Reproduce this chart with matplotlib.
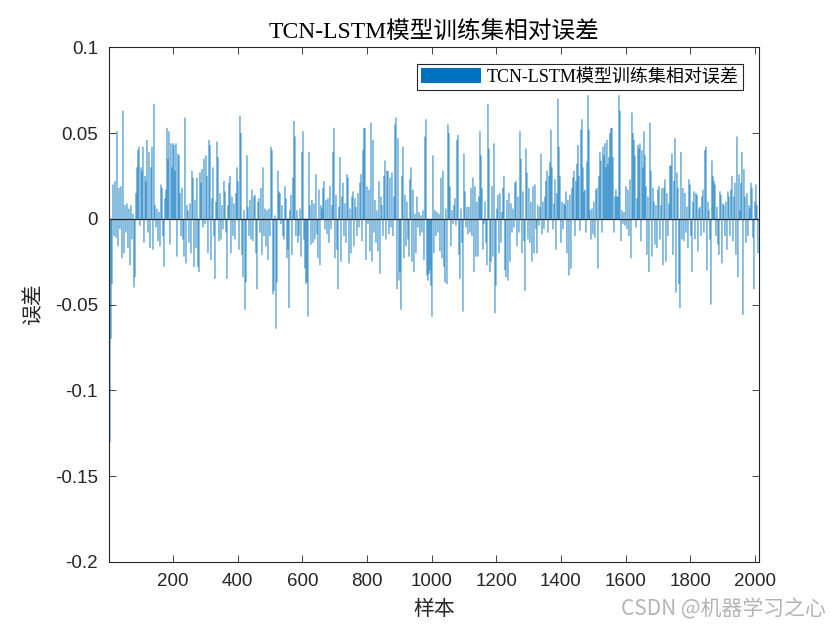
import numpy as np
import matplotlib.pyplot as plt

# Относительная ошибка (в тысячных), каждая ~3-я выборка
err_seg1 = [-130, -70, -38, 20, -10, 22, -11, 51, -16, 18, -6, 19, -23, 63, -20, 8, -8, 9, -17, 6,
            -27, 8, -12, 3, -40, -34, 15, 30, 40, 42, -4, 30, 28, 42, -14, 25, 22, 46, -8, 39,
            -17, 30, 42, -18, 67, 8, -5, 6, -13, 4, -16, 20, 18, -10, -28, 12, 17, 53, 35, 51,
            -15, 44, 30, 44, 43, 28, 44, -22, 38, 37, 15, -10, 18, -12, -22, 59, -26, 8, 5, -14,
            9, -20, 28, 24, -28]
err_seg2 = [11, -17, 24, -28, -31, 27, 21, 29, -5, 35, -3, 37, 25, -20, 46, 43, -24, 12, 30, -10,
            -35, 10, 45, 36, -13, 15, -12, 8, -6, 22, 16, -8, -35, 8, 21, 25, -20, 13, -10, 9,
            -12, 15, 30, 22, -18, 60, 50, -21, -34, 5, -53, -37, 37, 7, -10, 11, -12, 17, -13, 13,
            14, -20, -41, 10, 12, -8, 18, -21, 30, -10, 6, -16, 5, -24, 6, -10, 42, 40, -44, -42,
            2, -64, -37, 28, 16]
err_seg3 = [15, -3, 8, -10, -12, 19, 12, -23, -18, -52, 5, 14, -21, 24, 57, 48, -10, 5, -14, -10,
            6, -22, 39, 51, -12, -29, -38, -37, -57, 39, 8, -15, 11, -14, 9, -12, 26, -9, -23, 17,
            -27, 8, 6, 18, 22, -6, 11, -9, 12, -14, 19, -6, 8, 39, 53, -23, 14, -18, -41, 7,
            36, -25, 13, 21, -10, 9, -14, 26, 24, -26, 6, -20, 13, 16, -16, 12, 7, -10, 15, -5,
            21, 26, -13, 40, 53]
err_seg4 = [53, -24, 19, -3, 17, -19, 56, -25, 46, -8, 11, -14, 5, -19, 22, -32, 13, 8, -10, 25,
            34, -12, 28, 28, -9, 24, -5, 27, -10, 13, 55, 59, -41, 47, -36, -31, -53, 25, 42, -23,
            14, -16, 10, -12, -22, 23, 30, -25, 17, -31, 3, -20, 13, -5, 4, -10, 2, -8, 5, -24,
            48, 58, -33, -36, -32, -30, -39, -57, 37, -20, 5, -10, 4, -8, 3, -19, 24, -23, 28, -28,
            -37, 6, -38, 55, 50]
err_seg5 = [19, -16, 5, -3, 8, 12, -4, 46, 49, -21, -35, 6, -14, -54, 38, 16, -5, 7, -9, 7,
            -8, 18, -10, 24, -31, 19, -22, 10, -22, 13, 51, 37, 18, -18, -3, 10, -14, -27, 67, 41,
            -31, -25, 19, -22, 44, -55, -39, 6, 14, -20, 15, -14, 4, 18, 25, -30, -34, 11, -36, 15,
            -25, 9, -8, 6, -5, 21, 22, -16, 13, -8, 51, 35, -20, 16, -13, -42, 41, 27, -12, 18,
            -14, 10, -25, 19, -20]
err_seg6 = [20, -6, -20, 8, -4, 7, 38, -9, 10, -6, 13, 22, 28, -8, 25, 33, 52, 30, -6, 9,
            23, -18, 15, 70, 42, 25, -14, 10, -6, 9, 8, 16, -20, 11, -33, 14, -29, 18, 24, 28,
            -10, 22, 32, 43, 25, -7, 52, 58, 30, 16, 17, -8, 33, 72, 52, 5, -12, 6, -9, 10,
            -11, 17, 18, -29, 25, 39, 34, -8, 42, 37, 44, 30, 46, 32, 36, 50, 53, 53, 36, -8,
            13, 17, 13, 13, 72]
err_seg7 = [63, -13, 5, -3, 4, -4, 19, -6, 17, -10, 23, -23, 62, 50, 46, 37, -5, 12, 43, 41,
            44, -13, 40, 30, 51, 37, 19, -21, 13, -31, 56, 28, -22, 18, 10, -15, 8, -17, 17, 19,
            -12, 8, 18, -27, 18, 23, -25, 15, -10, 9, 31, 31, 38, -21, 22, 47, -43, 27, 18, -38]
err_seg8 = [-52, 39, -12, 18, -13, 15, -8, 7, -17, 23, 20, -10, -31, 10, 16, -12, 15, 14, -19, 6,
            7, -10, 13, 17, -8, 40, 42, -30, 10, 5, -12, -50, 34, 25, 22, 20, -10, 7, -15, -21,
            16, 14, -26, 9, 8, -10, 10, -18, 16, 13, -10, 17, 25, -13, 13, 21, -21, 48, -34, 26,
            5, 21, 39, -56, 29, 13, -14, 15, -10, 8, 6, 21, 18, -11, -41, 10, 20, 8, -20]

err = np.array(err_seg1 + err_seg2 + err_seg3 + err_seg4 +
               err_seg5 + err_seg6 + err_seg7 + err_seg8) / 1000.0

step = 3.095  # шаг по выборкам
samples = 4.4 + step * np.arange(len(err))

title_txt = 'TCN-LSTM模型训练集相对误差'
xticks = [200, 400, 600, 800, 1000, 1200, 1400, 1600, 1800, 2000]
yticks = [-0.2, -0.15, -0.1, -0.05, 0, 0.05, 0.1]
ytick_labels = ['-0.2', '-0.15', '-0.1', '-0.05', '0', '0.05', '0.1']

serif_cjk = ['Liberation Serif', 'Noto Sans CJK SC']

fig = plt.figure(figsize=(8.4, 6.3), dpi=100)
ax = fig.add_axes([0.130, 0.108, 0.7735, 0.817])

ax.bar(samples, err, width=0.9 * step, color='#0072BD', edgecolor='none',
       linewidth=0, snap=False, label=title_txt)
ax.axhline(0, color='#262626', lw=0.9, zorder=3)

ax.set_xlim(2, 2013)
ax.set_ylim(-0.2, 0.1)
ax.set_xticks(xticks)
ax.set_xticklabels([str(v) for v in xticks])
ax.set_yticks(yticks)
ax.set_yticklabels(ytick_labels)
ax.tick_params(direction='in', length=5, width=0.6, top=True, right=True,
               labelsize=13.5, colors='#262626', pad=8)
for lab in ax.get_xticklabels() + ax.get_yticklabels():
    lab.set_family(['Liberation Sans', 'DejaVu Sans'])
for sp in ax.spines.values():
    sp.set_color('#262626')
    sp.set_linewidth(0.8)

ax.set_title(title_txt, family=serif_cjk, fontsize=17, color='#000000', pad=6)
ax.set_xlabel('样本', family=serif_cjk, fontsize=15, color='#262626', labelpad=8)
ax.set_ylabel('误差', family=serif_cjk, fontsize=15, color='#262626', labelpad=8)

leg = ax.legend(loc='upper right', prop={'family': serif_cjk, 'size': 13},
                fancybox=False, framealpha=1, edgecolor='#262626',
                handlelength=3.3, handleheight=0.9, borderaxespad=0.9,
                borderpad=0.25, handletextpad=0.3)
leg.get_frame().set_linewidth(0.8)

fig.text(0.983, 0.033, 'CSDN @机器学习之心', ha='right', va='center', fontsize=15,
         color='#b4b4b4', family=['Noto Sans CJK SC', 'DejaVu Sans'])

fig.savefig('out.png', dpi=100)
